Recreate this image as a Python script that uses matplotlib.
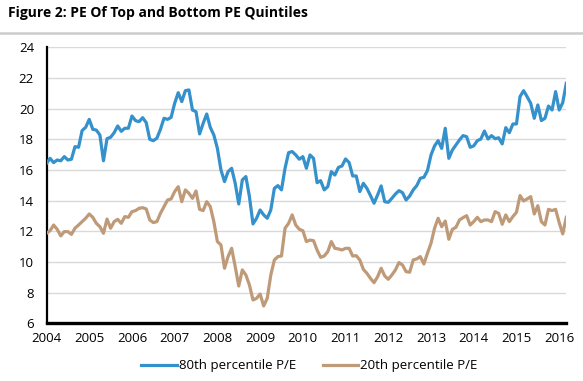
import numpy as np
import matplotlib
matplotlib.use("Agg")
import matplotlib.pyplot as plt
from matplotlib.lines import Line2D

plt.rcParams['font.family'] = ['Open Sans', 'DejaVu Sans']

start_year = 2004  # monthly data, Jan 2004 onward
year_ticks = list(range(2004, 2017))
y_ticks = list(range(6, 25, 2))

p80 = [16.43, 16.76, 16.48, 16.65, 16.6, 16.87, 16.65, 16.7, 17.52, 17.48, 18.57, 18.78, 19.3,
       18.65, 18.6, 18.28, 16.6, 18.04, 18.13, 18.43, 18.87, 18.52, 18.72, 18.72, 19.52, 19.22,
       19.15, 19.41, 19.09, 18.0, 17.91, 18.07, 18.65, 19.37, 19.3, 19.43, 20.35, 21.04, 20.46,
       21.17, 21.22, 19.91, 19.8, 18.35, 19.04, 19.65, 18.78, 18.28, 17.41, 16.0, 15.24,
       15.89, 16.11, 15.13, 13.78, 15.35, 15.57, 14.26, 12.48, 12.85, 13.39, 13.07, 12.85, 13.39,
       14.8, 14.98, 14.7, 16.11, 17.13, 17.2, 16.98, 16.7, 16.87, 16.11, 16.98, 16.76,
       15.17, 15.3, 14.7, 14.91, 15.89, 15.67, 16.17, 16.26, 16.72, 16.48, 15.61, 15.61, 14.59,
       15.13, 14.8, 14.33, 13.83, 14.37, 14.96, 13.93, 13.89, 14.15, 14.43, 14.65, 14.52, 14.04,
       14.3, 14.7, 14.98, 15.46, 15.52, 15.96, 16.98, 17.57, 17.91, 17.41, 18.72, 16.76, 17.3,
       17.63, 17.96, 18.24, 18.17, 17.48, 17.57, 17.91, 18.02, 18.54, 18.02, 18.24, 18.04,
       18.1, 17.7, 18.76, 18.43, 19.0, 19.0, 20.78, 21.17, 20.78, 20.35, 19.37, 20.24, 19.22,
       19.37, 20.17, 19.91, 21.11, 19.91, 20.39, 21.65]

p20 = [11.87, 12.04, 12.41, 12.13, 11.7, 11.98, 11.98, 11.8, 12.2, 12.41, 12.63, 12.85, 13.13,
       12.91, 12.52, 12.3, 11.87, 12.8, 12.2, 12.63, 12.78, 12.52, 12.96, 12.91, 13.28, 13.35,
       13.5, 13.54, 13.46, 12.74, 12.57, 12.63, 13.17, 13.61, 14.04, 14.11, 14.59, 14.91, 13.93,
       14.7, 14.48, 14.15, 14.63, 13.43, 13.35, 13.93, 13.61, 12.63, 11.33, 11.11, 9.59,
       10.35, 10.89, 9.7, 8.43, 9.48, 9.15, 8.5, 7.52, 7.63, 7.91, 7.13, 7.63, 9.15, 10.13,
       10.35, 10.39, 12.2, 12.52, 13.07, 12.41, 12.13, 12.04, 11.33, 11.43, 11.39,
       10.78, 10.3, 10.39, 10.67, 11.33, 10.89, 10.85, 10.78, 10.89, 10.89, 10.39, 10.41, 10.13,
       9.52, 9.26, 8.93, 8.65, 9.04, 9.59, 9.09, 8.87, 9.15, 9.48, 9.96, 9.8, 9.37,
       9.33, 10.13, 10.2, 10.35, 9.87, 10.57, 11.22, 12.2, 12.85, 12.3, 12.67, 11.48, 12.13,
       12.26, 12.74, 12.89, 13.02, 12.41, 12.63, 12.91, 12.63, 12.74, 12.74, 12.63, 13.28,
       13.17, 12.46, 13.07, 12.63, 12.96, 13.24, 14.33, 13.98, 14.11, 14.26, 13.13, 13.67, 12.63,
       12.41, 13.43, 13.35, 13.43, 12.57, 11.83, 12.91]

labels = ["80th percentile P/E", "20th percentile P/E"]
title = "Figure 2: PE Of Top and Bottom PE Quintiles"

W, H = 583, 381
fig = plt.figure(figsize=(W / 100, H / 100), dpi=100)
ax = fig.add_axes([46.5 / W, 1 - 323.3 / H, (566.3 - 46.5) / W, 276 / H])

x = start_year + np.arange(len(p80)) / 12.0
ax.plot(x, p80, color="#3591CC", lw=2.3, label=labels[0], solid_joinstyle="round", zorder=3)
ax.plot(x, p20, color="#BF9A78", lw=2.3, label=labels[1], solid_joinstyle="round", zorder=3)

ax.set_xlim(start_year, start_year + (len(p80) - 1) / 12.0)
ax.set_ylim(6, 24)
ax.set_xticks(year_ticks)
ax.set_xticklabels([str(y) for y in year_ticks])
ax.set_yticks(y_ticks)
ax.grid(axis="y", color="#D9D9D9", lw=1.0)
ax.set_axisbelow(True)
ax.tick_params(axis="both", length=0, labelsize=9.5, colors="black")
ax.tick_params(axis="x", pad=6)
ax.tick_params(axis="y", pad=9)
for s in ["top", "right"]:
    ax.spines[s].set_visible(False)
ax.spines["left"].set_linewidth(1.6)
ax.spines["bottom"].set_linewidth(2.4)

fig.text(8 / W, 1 - 13 / H, title, fontsize=10, fontweight="bold", ha="left", va="center")
fig.add_artist(Line2D([0, 1], [1 - 33 / H, 1 - 33 / H], color="#CCCCCC", lw=1.8,
                      transform=fig.transFigure))

fig.legend(loc="center", bbox_to_anchor=(309.5 / W, 1 - 365.7 / H), ncol=2, frameon=False,
           fontsize=9.5, handlelength=2.7, handletextpad=0.15, columnspacing=2.0)

fig.savefig("out.png", dpi=100)
